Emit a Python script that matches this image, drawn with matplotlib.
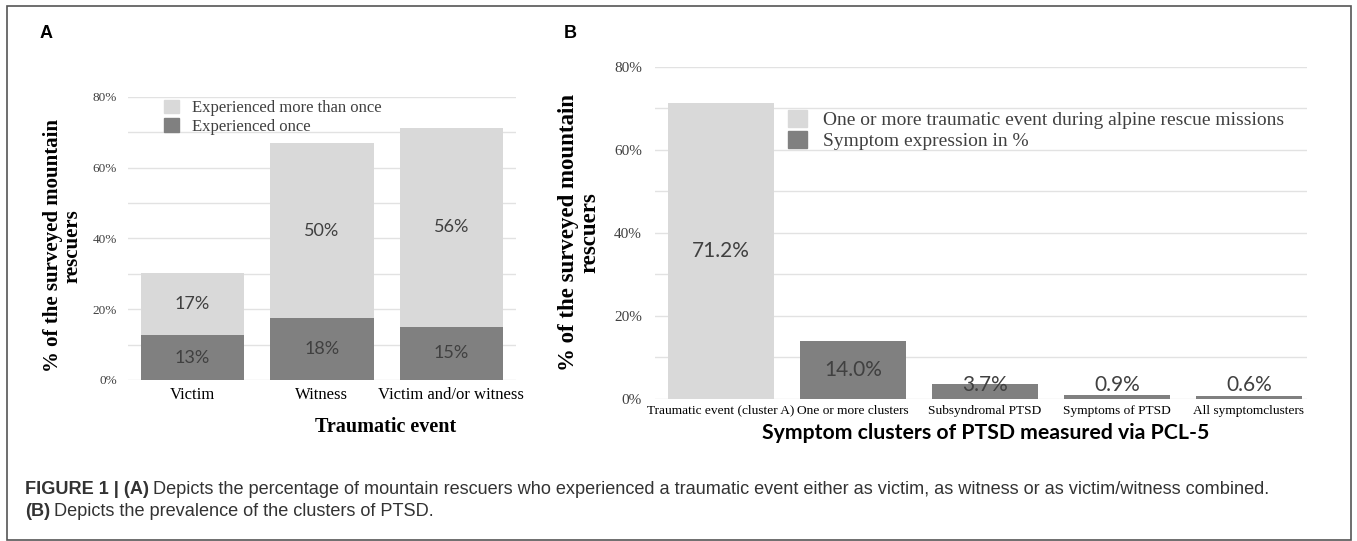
import matplotlib
matplotlib.use('Agg')
import matplotlib.pyplot as plt
from matplotlib.patches import Rectangle, Patch

# panel A: traumatic event
events = ['Victim', 'Witness', 'Victim and/or witness']
once = [12.7, 17.4, 15.1]
more_than_once = [17.4, 49.6, 56.0]
once_labels = ['13%', '18%', '15%']
more_labels = ['17%', '50%', '56%']

# panel B: PTSD symptom clusters
clusters = ['Traumatic event (cluster A)', 'One or more clusters', 'Subsyndromal PTSD',
            'Symptoms of PTSD', 'All symptomclusters']
cluster_values = [71.2, 14.0, 3.7, 0.9, 0.6]
cluster_labels = ['71.2%', '14.0%', '3.7%', '0.9%', '0.6%']

yticks = [0, 20, 40, 60, 80]
ytick_labels = ['0%', '20%', '40%', '60%', '80%']

LIGHT = '#d9d9d9'
DARK = '#808080'
GRID = '#e2e2e2'
SERIF = 'Liberation Serif'
LABEL_FONT = 'Lato'
CAP_FONT = 'Liberation Sans'

fig = plt.figure(figsize=(13.57, 5.41), dpi=100)

def style_axes(ax, tick_size, pad):
    ax.set_ylim(0, 80)
    ax.set_yticks(yticks)
    ax.set_yticklabels(ytick_labels, fontsize=tick_size, family=SERIF, color='#404040')
    ax.set_yticks(range(10, 80, 20), minor=True)
    ax.yaxis.grid(True, which='both', color=GRID, lw=1)
    ax.set_axisbelow(True)
    ax.tick_params(axis='y', which='both', length=0, pad=pad)
    ax.tick_params(axis='x', length=0)
    for s in ax.spines.values():
        s.set_visible(False)


# ---- panel A
axA = fig.add_axes([0.0943, 0.2976, 0.2859, 0.5237])
x = range(len(events))
b1 = axA.bar(x, once, width=0.8, color=DARK, label='Experienced once')
b2 = axA.bar(x, more_than_once, width=0.8, bottom=once, color=LIGHT,
             label='Experienced more than once')
axA.bar_label(b1, labels=once_labels, label_type='center', fontsize=13,
              family=LABEL_FONT, color='#404040')
axA.bar_label(b2, labels=more_labels, label_type='center', fontsize=13,
              family=LABEL_FONT, color='#404040')
axA.set_xlim(-0.5, 2.5)
style_axes(axA, 9.5, 8)
axA.set_xticks(list(x))
axA.set_xticklabels(events, fontsize=12, family=SERIF)
axA.tick_params(axis='x', pad=5)
axA.text(0.665, -0.165, 'Traumatic event', transform=axA.transAxes, ha='center',
         va='center', fontsize=14.5, family=SERIF, weight='bold')
axA.text(-0.1675, 0.473, '% of the surveyed mountain\nrescuers', transform=axA.transAxes,
         rotation=90, ha='center', va='center', multialignment='center',
         fontsize=15, family=SERIF, weight='bold', linespacing=1.0)
hA = [Patch(color=LIGHT), Patch(color=DARK)]
axA.legend(hA, ['Experienced more than once', 'Experienced once'],
           loc='upper left', bbox_to_anchor=(0.093, 0.99), frameon=False,
           prop={'family': SERIF, 'size': 12}, handlelength=0.9, handleheight=0.9,
           handletextpad=0.75, labelspacing=0.1, borderpad=0, borderaxespad=0,
           labelcolor='#404040')

# ---- panel B
axB = fig.add_axes([0.4827, 0.2625, 0.4805, 0.6142])
xb = range(len(clusters))
colors = [LIGHT] + [DARK] * (len(clusters) - 1)
axB.bar(xb, cluster_values, width=0.8, color=colors)
for i, (v, lab) in enumerate(zip(cluster_values, cluster_labels)):
    axB.text(i, max(v / 2, 3.4), lab, ha='center', va='center', fontsize=15,
             family=LABEL_FONT, color='#404040')
axB.set_xlim(-0.5, 4.44)
style_axes(axB, 11, 9.5)
axB.set_xticks(list(xb))
axB.set_xticklabels(clusters, fontsize=9.6, family=SERIF)
axB.tick_params(axis='x', pad=4)
axB.text(0.507, -0.103, 'Symptom clusters of PTSD measured via PCL-5', transform=axB.transAxes,
         ha='center', va='center', fontsize=15.3, family=LABEL_FONT, weight='bold')
axB.text(-0.1165, 0.5, '% of the surveyed mountain\nrescuers', transform=axB.transAxes,
         rotation=90, ha='center', va='center', multialignment='center',
         fontsize=16.5, family=SERIF, weight='bold', linespacing=1.0)
hB = [Patch(color=LIGHT), Patch(color=DARK)]
axB.legend(hB, ['One or more traumatic event during alpine rescue missions',
                'Symptom expression in %'],
           loc='upper left', bbox_to_anchor=(0.204, 0.87), frameon=False,
           prop={'family': SERIF, 'size': 14}, handlelength=0.95, handleheight=0.95,
           handletextpad=0.85, labelspacing=0.1, borderpad=0, borderaxespad=0,
           labelcolor='#404040')

# panel letters
fig.text(40 / 1357, 1 - 33 / 541, 'A', ha='left', va='center', fontsize=13,
         family=CAP_FONT, weight='bold')
fig.text(564 / 1357, 1 - 33 / 541, 'B', ha='left', va='center', fontsize=13,
         family=CAP_FONT, weight='bold')

# caption: bold lead-in followed by regular text
CAP_SIZE = 13.1
fig.canvas.draw()
r = fig.canvas.get_renderer()

def caption_line(y_px, bold, rest):
    head = fig.text(25 / 1357, 1 - y_px / 541, bold, ha='left', va='center',
                    fontsize=CAP_SIZE, family=CAP_FONT, weight='bold', color='#333333')
    bb = head.get_window_extent(r)
    fig.text((bb.x1 + 4) / 1357, 1 - y_px / 541, rest, ha='left', va='center',
             fontsize=CAP_SIZE, family=CAP_FONT, color='#333333')

caption_line(490, 'FIGURE 1 | (A)',
             'Depicts the percentage of mountain rescuers who experienced a traumatic event '
             'either as victim, as witness or as victim/witness combined.')
caption_line(511, '(B)', 'Depicts the prevalence of the clusters of PTSD.')

# outer frame
fig.patches.append(Rectangle((7 / 1357, 1 / 541), 1344 / 1357, 534 / 541,
                             transform=fig.transFigure, fill=False,
                             edgecolor='#555555', lw=1.2))

fig.savefig('out.png', dpi=100)
